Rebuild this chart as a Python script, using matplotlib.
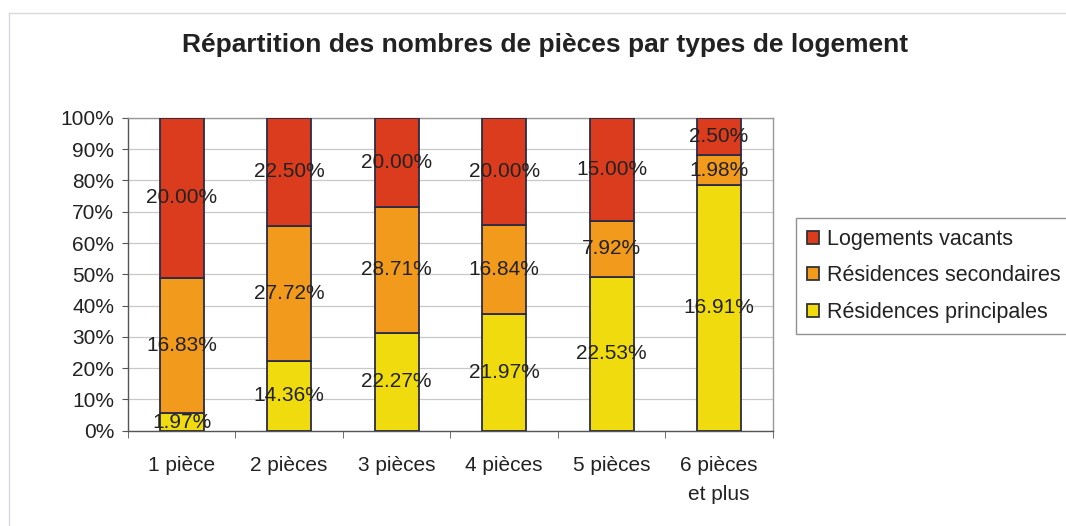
import matplotlib
matplotlib.use("Agg")
import matplotlib.pyplot as plt
import numpy as np
from matplotlib.lines import Line2D

plt.rcParams['font.family'] = ['Liberation Sans', 'DejaVu Sans']

categories = ["1 pièce", "2 pièces", "3 pièces", "4 pièces", "5 pièces", "6 pièces\net plus"]
series_names = ["Résidences principales", "Résidences secondaires", "Logements vacants"]
# share of each bar (percent of 100% stacked height)
principales_share = [5.6, 22.3, 31.3, 37.3, 49.2, 78.5]
secondaires_share = [43.2, 43.1, 40.3, 28.4, 17.8, 9.6]
vacants_share = [51.2, 34.6, 28.4, 34.3, 33.0, 11.9]
# data labels shown in bars
principales_labels = ["1.97%", "14.36%", "22.27%", "21.97%", "22.53%", "16.91%"]
secondaires_labels = ["16.83%", "27.72%", "28.71%", "16.84%", "7.92%", "1.98%"]
vacants_labels = ["20.00%", "22.50%", "20.00%", "20.00%", "15.00%", "2.50%"]
yticks = [0, 10, 20, 30, 40, 50, 60, 70, 80, 90, 100]

colors = ["#f0dc0e", "#f29a1c", "#dc3c1e"]
edge = "#2b2b45"
txt = "#222222"

fig = plt.figure(figsize=(10.66, 5.26), dpi=100)
ax = fig.add_axes([0.120, 0.181, 0.605, 0.595])

x = np.arange(len(categories))
w = 0.41
shares = [principales_share, secondaires_share, vacants_share]
labels = [principales_labels, secondaires_labels, vacants_labels]
tot = np.array(principales_share) + np.array(secondaires_share) + np.array(vacants_share)
bottom = np.zeros(len(categories))
handles = []
for s, name, col, lab in zip(shares, series_names, colors, labels):
    vals = np.array(s, dtype=float) / tot * 100
    b = ax.bar(x, vals, w, bottom=bottom, color=col, edgecolor=edge, linewidth=1.3, label=name, zorder=3)
    handles.append(b)
    for xi, bi, vi, li in zip(x, bottom, vals, lab):
        ax.text(xi, bi + vi / 2, li, ha='center', va='center', fontsize=15, color=txt, zorder=4)
    bottom += vals

ax.set_xlim(-0.5, len(categories) - 0.5)
ax.set_ylim(0, 100)
ax.set_yticks(yticks)
ax.set_yticklabels([f"{v}%" for v in yticks], fontsize=15, color=txt)
ax.yaxis.grid(True, color="#c8c8c8", linewidth=0.9, zorder=0)
ax.set_xticks(x)
ax.set_xticklabels(categories, fontsize=15, color=txt, linespacing=1.65)
ax.set_xticks(np.arange(-0.5, len(categories)), minor=True)
ax.tick_params(axis='x', which='major', length=0, pad=18)
ax.tick_params(axis='x', which='minor', length=5, color="#555555")
ax.tick_params(axis='y', length=4, color="#555555", pad=6)
for sp in ['left', 'bottom']:
    ax.spines[sp].set_color("#555555")
    ax.spines[sp].set_linewidth(1.0)
for sp in ['top', 'right']:
    ax.spines[sp].set_color("#999999")
    ax.spines[sp].set_linewidth(1.0)

fig.text(0.511, 0.915, "Répartition des nombres de pièces par types de logement",
         ha='center', va='center', fontsize=19, fontweight='bold', color=txt)

leg = fig.legend(handles[::-1], series_names[::-1], loc='upper left',
                 bbox_to_anchor=(796 / 1066, 1 - 218 / 526), fontsize=15.5, frameon=True,
                 fancybox=False, edgecolor="#777777", handlelength=0.55, handleheight=0.55,
                 handletextpad=0.4, labelspacing=0.72, borderpad=0.5, borderaxespad=0,
                 labelcolor=txt)
leg.get_frame().set_linewidth(1.0)
for p in leg.get_patches():
    p.set_edgecolor("#333333")

# chart area border (top and left visible)
fig.add_artist(Line2D([9 / 1066, 1.0], [1 - 13 / 526, 1 - 13 / 526], transform=fig.transFigure,
                      color="#d8d8e0", linewidth=1.0))
fig.add_artist(Line2D([9 / 1066, 9 / 1066], [0.0, 1 - 13 / 526], transform=fig.transFigure,
                      color="#d8d8e0", linewidth=1.0))

fig.savefig("out.png", dpi=100)
